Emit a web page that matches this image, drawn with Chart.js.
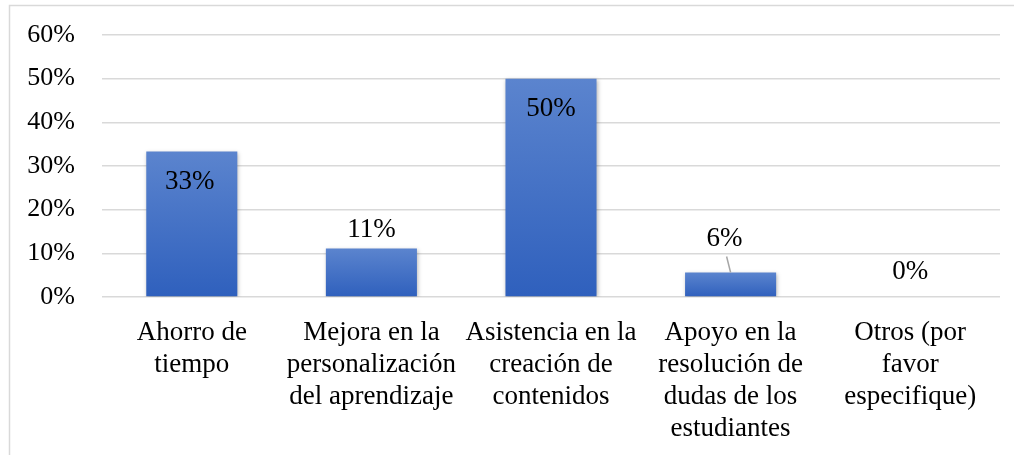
<!DOCTYPE html>
<html>
<head>
<meta charset="utf-8">
<script src="https://cdn.jsdelivr.net/npm/chart.js@4/dist/chart.umd.min.js"></script>
<style>
  html, body { margin: 0; padding: 0; background: #ffffff; }
  #wrap { width: 1014px; height: 455px; position: relative; }
</style>
</head>
<body>
<div id="wrap"><canvas id="chart"></canvas></div>
<script>
// answers to the question, share of respondents (%)
const categories = [
    ['Ahorro de', 'tiempo'],
    ['Mejora en la', 'personalización', 'del aprendizaje'],
    ['Asistencia en la', 'creación de', 'contenidos'],
    ['Apoyo en la', 'resolución de', 'dudas de los', 'estudiantes'],
    ['Otros (por', 'favor', 'especifique)']
];
const shares = [33.3, 11.1, 50, 5.6, 0];
const valueLabels = ['33%', '11%', '50%', '6%', '0%'];
const yTicks = [0, 10, 20, 30, 40, 50, 60];

const FONT = "'Liberation Serif', 'Times New Roman', serif";

// label placement relative to the top of each bar (style only)
const labelDy = [30, -19, 30, -34, -25];
const labelDx = [-2, 0, 0, -6, 0];
const leader = [false, false, false, true, false];

// outer frame like the office chart box
const framePlugin = {
    id: 'frame',
    beforeDraw(chart) {
        const ctx = chart.ctx;
        ctx.save();
        ctx.strokeStyle = '#d9d9d9';
        ctx.lineWidth = 1.5;
        ctx.strokeRect(9.5, 5.5, chart.width + 20, chart.height + 20);
        ctx.restore();
    }
};

// soft shadow under the bars
const shadowPlugin = {
    id: 'barShadow',
    beforeDatasetsDraw(chart) {
        const ctx = chart.ctx;
        ctx.save();
        ctx.shadowColor = 'rgba(0,0,0,0.28)';
        ctx.shadowBlur = 4;
        ctx.shadowOffsetX = 1;
        ctx.shadowOffsetY = 1;
    },
    afterDatasetsDraw(chart) {
        chart.ctx.restore();
    }
};

// value labels (no datalabels plugin available)
const valuePlugin = {
    id: 'values',
    afterDraw(chart) {
        const ctx = chart.ctx;
        const meta = chart.getDatasetMeta(0);
        ctx.save();
        ctx.font = '27px ' + FONT;
        ctx.fillStyle = '#000000';
        ctx.textAlign = 'center';
        ctx.textBaseline = 'middle';
        meta.data.forEach((bar, i) => {
            const x = bar.x + labelDx[i];
            const y = bar.y + labelDy[i];
            ctx.fillText(valueLabels[i], x, y);
            if (leader[i]) {
                ctx.strokeStyle = '#a6a6a6';
                ctx.lineWidth = 1.5;
                ctx.beginPath();
                ctx.moveTo(x + 2, y + 18);
                ctx.lineTo(bar.x, bar.y);
                ctx.stroke();
            }
        });
        ctx.restore();
    }
};

function barGradient(context) {
    const chart = context.chart;
    const { ctx, scales, chartArea } = chart;
    if (!chartArea || !scales.y) return '#4472c4';
    const v = shares[context.dataIndex];
    const top = scales.y.getPixelForValue(v);
    const bottom = scales.y.getPixelForValue(0);
    if (!isFinite(top) || !isFinite(bottom) || bottom - top < 1) return '#4472c4';
    const g = ctx.createLinearGradient(0, top, 0, bottom);
    g.addColorStop(0, '#5b84ce');
    g.addColorStop(1, '#2f60bd');
    return g;
}

new Chart(document.getElementById('chart'), {
    type: 'bar',
    data: {
        labels: categories,
        datasets: [{
            data: shares,
            backgroundColor: barGradient,
            borderWidth: 0,
            categoryPercentage: 1,
            barPercentage: 0.507
        }]
    },
    options: {
        responsive: true,
        maintainAspectRatio: false,
        animation: false,
        layout: { padding: { top: 35, right: 14, left: 0, bottom: 0 } },
        plugins: {
            legend: { display: false },
            tooltip: { enabled: false }
        },
        scales: {
            x: {
                grid: { display: false },
                border: { display: false },
                ticks: {
                    color: '#000000',
                    padding: 12,
                    maxRotation: 0,
                    autoSkip: false,
                    font: { family: FONT, size: 27, lineHeight: 32 / 27 }
                },
                afterFit(scale) { scale.height = 158; }
            },
            y: {
                min: 0,
                max: 60,
                afterBuildTicks(scale) {
                    scale.ticks = yTicks.map(v => ({ value: v }));
                },
                grid: { color: '#d9d9d9', lineWidth: 1.5, drawTicks: false },
                border: { display: false },
                ticks: {
                    color: '#000000',
                    padding: 27,
                    font: { family: FONT, size: 26 },
                    callback: v => v + '%'
                },
                afterFit(scale) {
                    scale.width = 102;
                    // tick padding would otherwise push the plot area down
                    scale.paddingTop = 0;
                }
            }
        }
    },
    plugins: [framePlugin, shadowPlugin, valuePlugin]
});
</script>
</body>
</html>
